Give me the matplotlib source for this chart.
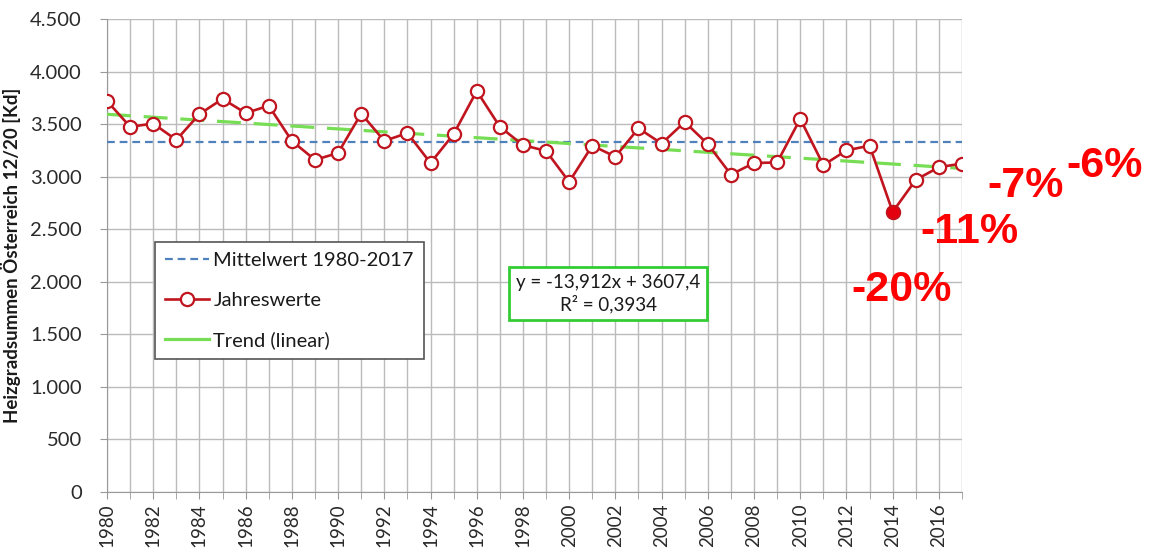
import numpy as np
import matplotlib
matplotlib.use('Agg')
import matplotlib.pyplot as plt
from matplotlib.lines import Line2D
from matplotlib.ticker import MultipleLocator, FuncFormatter

plt.rcParams['font.family'] = ['Lato', 'DejaVu Sans']

# Heizgradsummen Österreich 12/20, Jahreswerte 1980-2017
jahre = np.arange(1980, 2018)
werte = [3720, 3475, 3505, 3350, 3595, 3740, 3605, 3675, 3340, 3160,
         3225, 3600, 3340, 3415, 3130, 3405, 3815, 3475, 3300, 3245,
         2950, 3295, 3190, 3460, 3315, 3520, 3310, 3020, 3130, 3135,
         3550, 3110, 3250, 3295, 2665, 2970, 3090, 3125]

# lineare Trendlinie (Excel, x = 1..38)
steigung = -13.912
achsenabschnitt = 3607.4
r2 = 0.3934

# Abweichungen der letzten Jahre
abw_texte = ['-20%', '-11%', '-7%', '-6%']
abw_pos = [(902, 290), (969, 232), (1026, 186), (1105, 166)]  # Pixel

rot = '#C0141E'
blau = '#4F81BD'
gruen = '#77DD55'

fig = plt.figure(figsize=(11.51, 5.48), dpi=100, facecolor='white')
ax = fig.add_axes([107 / 1151, 1 - 492 / 548, 855 / 1151, 473 / 548])

x_idx = jahre - 1979
trend = np.polyval([steigung, achsenabschnitt], x_idx)
mittel = np.mean(werte)

ax.plot(jahre, [mittel] * len(jahre), color=blau, lw=1.6, ls=(0, (3.5, 2.2)), zorder=3)
ax.plot(jahre, trend, color=gruen, lw=2.3, ls=(0, (7.5, 4)), zorder=3)
ax.plot(jahre, werte, color=rot, lw=1.9, marker='o', ms=9.5, mfc='white',
        mec=rot, mew=1.6, zorder=4)
# Minimum 2014 hervorheben
i14 = list(jahre).index(2014)
ax.plot(jahre[i14], werte[i14], 'o', ms=9.5, color='#E3000F', mec=rot, zorder=5)

ax.set_xlim(1980, 2017)
ax.set_ylim(0, 4500)
ax.xaxis.set_major_locator(MultipleLocator(2))
ax.xaxis.set_minor_locator(MultipleLocator(1))
ax.yaxis.set_major_locator(MultipleLocator(500))
ax.yaxis.set_major_formatter(FuncFormatter(lambda v, p: f'{int(v):,}'.replace(',', '.')))
ax.grid(True, which='both', axis='x', color='#BBBBBB', lw=1)
ax.grid(True, which='major', axis='y', color='#BBBBBB', lw=1)
ax.set_axisbelow(True)
for s in ['top', 'right']:
    ax.spines[s].set_visible(False)
for s in ['left', 'bottom']:
    ax.spines[s].set_color('#999999')
ax.tick_params(axis='x', which='both', length=5, color='#999999', labelsize=13.5,
               labelrotation=90, labelcolor='#2a2a2a', pad=3)
ax.tick_params(axis='y', length=5, color='#999999', labelsize=14.5, labelcolor='#2a2a2a', pad=13)
ax.set_ylabel('Heizgradsummen Österreich 12/20 [Kd]', fontsize=13.5, fontweight='bold',
              color='#1a1a1a', labelpad=7)

# Legende
handles = [Line2D([], [], color=blau, lw=1.6, ls=(0, (3.5, 2.2))),
           Line2D([], [], color=rot, lw=1.9, marker='o', ms=9.5, mfc='white', mec=rot, mew=1.6),
           Line2D([], [], color=gruen, lw=2.3)]
labels = ['Mittelwert 1980-2017', 'Jahreswerte', 'Trend (linear)']
leg = ax.legend(handles, labels, loc='upper left', bbox_to_anchor=(0.056, 0.529),
                borderaxespad=0, fontsize=14.5, frameon=True, fancybox=False,
                edgecolor='#555555', framealpha=1, handlelength=2.2, handletextpad=0.2,
                labelspacing=1.12, borderpad=0.5)
leg.get_frame().set_linewidth(1.2)
for t in leg.get_texts():
    t.set_color('#1a1a1a')

# Trendgleichung
gleichung = f'y = {steigung:.3f}x + {achsenabschnitt:.1f}'.replace('.', ',')
ax.text(0.586, 0.42, gleichung + '\n' + f'R² = {r2:.4f}'.replace('.', ','),
        transform=ax.transAxes, ha='center', va='center', fontsize=13.5, color='#1a1a1a',
        linespacing=1.25,
        bbox=dict(boxstyle='square,pad=0.35', fc='white', ec='#33CC33', lw=2))

# Prozentangaben
for txt, (px, py) in zip(abw_texte, abw_pos):
    fig.text(px / 1151, 1 - py / 548, txt, ha='center', va='center', color='#FF0000',
             fontsize=31, fontweight='bold', family=['Liberation Sans', 'DejaVu Sans'])

fig.savefig('out.png', dpi=100, facecolor='white')
